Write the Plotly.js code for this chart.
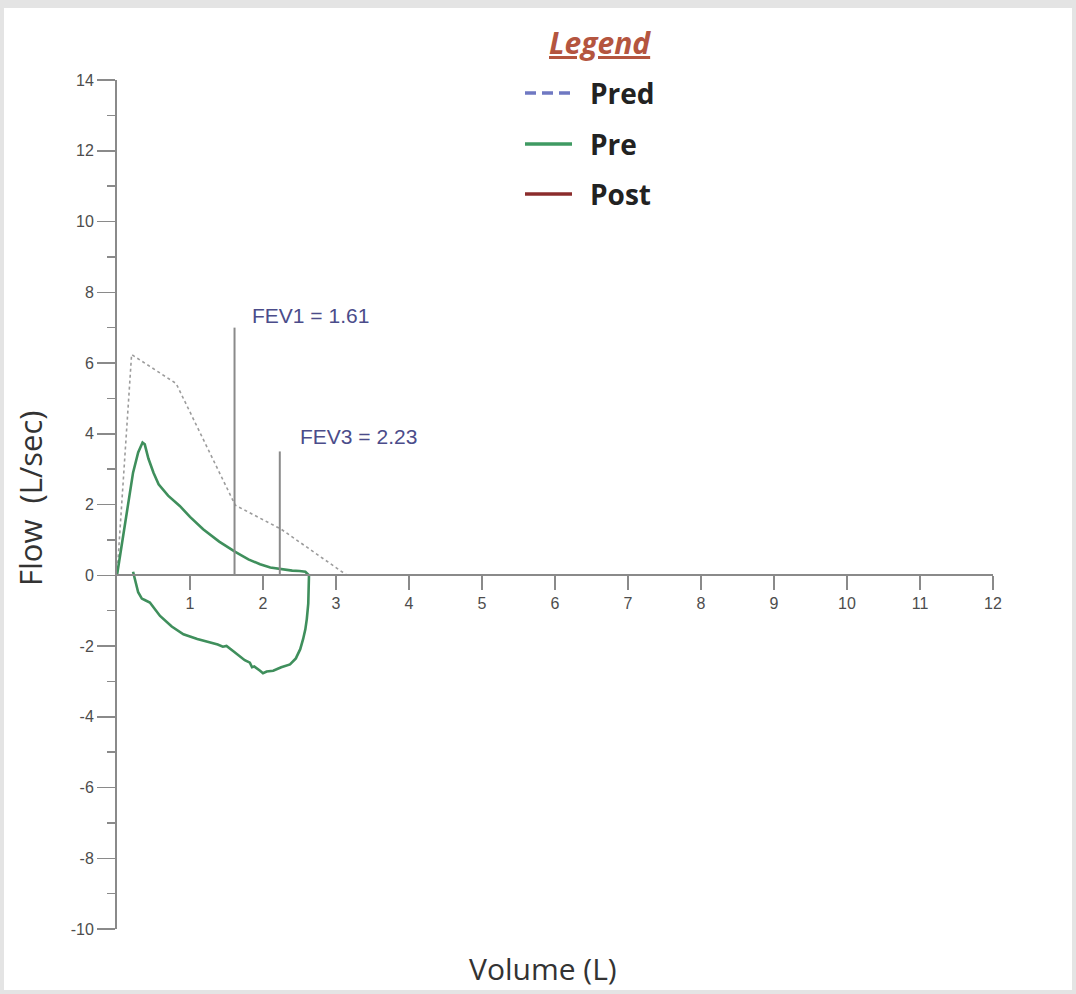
<!DOCTYPE html>
<html><head><meta charset="utf-8">
<script src="https://cdn.plot.ly/plotly-3.0.1.min.js"></script>
<style>
html,body{margin:0;padding:0;background:#e4e4e4;overflow:hidden}
#chart{position:absolute;left:4px;top:8px;width:1068px;height:982px;background:#fff}
</style>
</head><body><div id="chart"></div><script>
// Predicted expiratory curve
const predVolume = [0, 0.2, 0.81, 1.62, 2.25, 3.15];
const predFlow   = [0, 6.24, 5.42, 1.98, 1.3, 0];

// Pre-bronchodilator loop (expiration then inspiration)
const preVolume = [0, 0.03, 0.087, 0.15, 0.22, 0.29, 0.35, 0.38, 0.43, 0.5, 0.57, 0.7, 0.86, 1.0, 1.18, 1.4, 1.62, 1.8, 1.96, 2.1, 2.25, 2.4, 2.5, 2.58, 2.63,
  2.63, 2.62, 2.6, 2.58, 2.55, 2.51, 2.45, 2.37, 2.25, 2.14, 2.05, 2.0, 1.96, 1.92, 1.88, 1.85, 1.82, 1.75, 1.68, 1.59, 1.5, 1.45, 1.38, 1.27, 1.1, 0.91, 0.75, 0.59, 0.5, 0.45, 0.38, 0.34, 0.29, 0.26, 0.23, 0.22];
const preFlow = [0, 0.4, 1.11, 2.0, 2.9, 3.47, 3.75, 3.7, 3.3, 2.9, 2.57, 2.25, 1.96, 1.65, 1.3, 0.95, 0.66, 0.45, 0.31, 0.22, 0.17, 0.13, 0.12, 0.1, 0.0,
  -0.3, -0.8, -1.24, -1.53, -1.8, -2.09, -2.35, -2.52, -2.6, -2.7, -2.72, -2.77, -2.7, -2.65, -2.58, -2.6, -2.47, -2.4, -2.28, -2.14, -2.0, -2.02, -1.96, -1.9, -1.8, -1.67, -1.45, -1.15, -0.92, -0.77, -0.7, -0.66, -0.48, -0.25, 0.0, 0.1];

// FEV markers
const fevNames  = ['FEV1', 'FEV3'];
const fevValues = [1.61, 2.23];
const fevHeights = [7.0, 3.5];
const fevLabelX = [1.82, 2.48];
const fevLabelY = [7.35, 3.93];

// Axis ticks
const xTicks = [1,2,3,4,5,6,7,8,9,10,11,12];
const yTicks = [-10,-8,-6,-4,-2,0,2,4,6,8,10,12,14];

// Legend entries
const legendNames  = ['Pred', 'Pre', 'Post'];
const legendColors = ['#6f78c2', '#3f9a62', '#8b2c2c'];
const legendDash   = ['11px,6px', 'solid', 'solid'];

const axisColor = '#8a8a8a';

const traces = [
  {x: predVolume, y: predFlow, mode: 'lines', line: {color: '#9c9c9c', width: 1.6, dash: 'dot'}, showlegend: false, hoverinfo: 'skip'},
  {x: preVolume, y: preFlow, mode: 'lines', line: {color: '#3f8f5c', width: 2.6}, showlegend: false, hoverinfo: 'skip'}
];
fevValues.forEach((v, i) => {
  traces.push({x: [v, v], y: [0, fevHeights[i]], mode: 'lines', line: {color: '#8a8a8a', width: 2}, showlegend: false, hoverinfo: 'skip'});
});

// px -> paper helpers for the legend block (layout only)
const PL = 113 + 4, PW = 876, PB = 72 + 8 + 849, PH = 849;
const px = v => (v - PL) / PW;
const py = v => (PB - v) / PH;

const annotations = fevNames.map((n, i) => ({
  x: fevLabelX[i], y: fevLabelY[i], xref: 'x', yref: 'y', xanchor: 'left', yanchor: 'middle',
  text: n + ' = ' + fevValues[i].toFixed(2), showarrow: false,
  font: {family: 'Liberation Sans, Arial, sans-serif', size: 21, color: '#4b4c8a'}
}));
annotations.push({
  x: px(543), y: py(968), xref: 'paper', yref: 'paper', xanchor: 'center', yanchor: 'middle',
  text: 'Volume (L)', showarrow: false,
  font: {family: 'Open Sans, sans-serif', size: 30, color: '#333'}
});
annotations.push({
  x: px(30), y: py(499), xref: 'paper', yref: 'paper', xanchor: 'center', yanchor: 'middle',
  text: 'Flow&nbsp;&nbsp;(L/sec)', showarrow: false, textangle: -90,
  font: {family: 'Open Sans, sans-serif', size: 31, color: '#333'}
});
annotations.push({
  x: px(600), y: py(43), xref: 'paper', yref: 'paper', xanchor: 'center', yanchor: 'middle',
  text: 'Legend', showarrow: false,
  font: {family: 'Open Sans, sans-serif', size: 30, color: '#b4553f', style: 'italic', weight: 700, lineposition: 'under'}
});
const legendRows = [93, 144, 194];
const shapes = [];
legendNames.forEach((n, i) => {
  shapes.push({type: 'line', xref: 'paper', yref: 'paper', x0: px(525), x1: px(572), y0: py(legendRows[i]), y1: py(legendRows[i]),
    line: {color: legendColors[i], width: 3.5, dash: legendDash[i]}});
  annotations.push({
    x: px(588), y: py(legendRows[i]), xref: 'paper', yref: 'paper', xanchor: 'left', yanchor: 'middle',
    text: n, showarrow: false,
    font: {family: 'Open Sans, sans-serif', size: 28, color: '#222', weight: 700}
  });
});

const tickFont = {family: 'Liberation Sans, Arial, sans-serif', size: 16, color: '#4d4d4d'};

const layout = {
  width: 1068, height: 982,
  margin: {l: 113, r: 79, t: 72, b: 61},
  paper_bgcolor: '#fff', plot_bgcolor: '#fff',
  showlegend: false,
  xaxis: {
    range: [0, 12], anchor: 'free', position: 10 / 24,
    showgrid: false, zeroline: false, showline: true, linecolor: axisColor, linewidth: 2,
    tickmode: 'array', tickvals: xTicks, ticktext: xTicks.map(String),
    ticks: 'outside', ticklen: 14, tickwidth: 1.5, tickcolor: axisColor,
    tickfont: tickFont
  },
  yaxis: {
    range: [-10, 14],
    showgrid: false, zeroline: false, showline: true, linecolor: axisColor, linewidth: 2,
    tickmode: 'array', tickvals: yTicks, ticktext: yTicks.map(String),
    ticks: 'outside', ticklen: 18, tickwidth: 1.5, tickcolor: axisColor,
    minor: {dtick: 1, tick0: 0, ticks: 'outside', ticklen: 8, tickwidth: 1.5, tickcolor: axisColor, showgrid: false},
    tickfont: tickFont
  },
  annotations: annotations,
  shapes: shapes
};

Plotly.newPlot('chart', traces, layout, {displayModeBar: false, staticPlot: true});
</script></body></html>
